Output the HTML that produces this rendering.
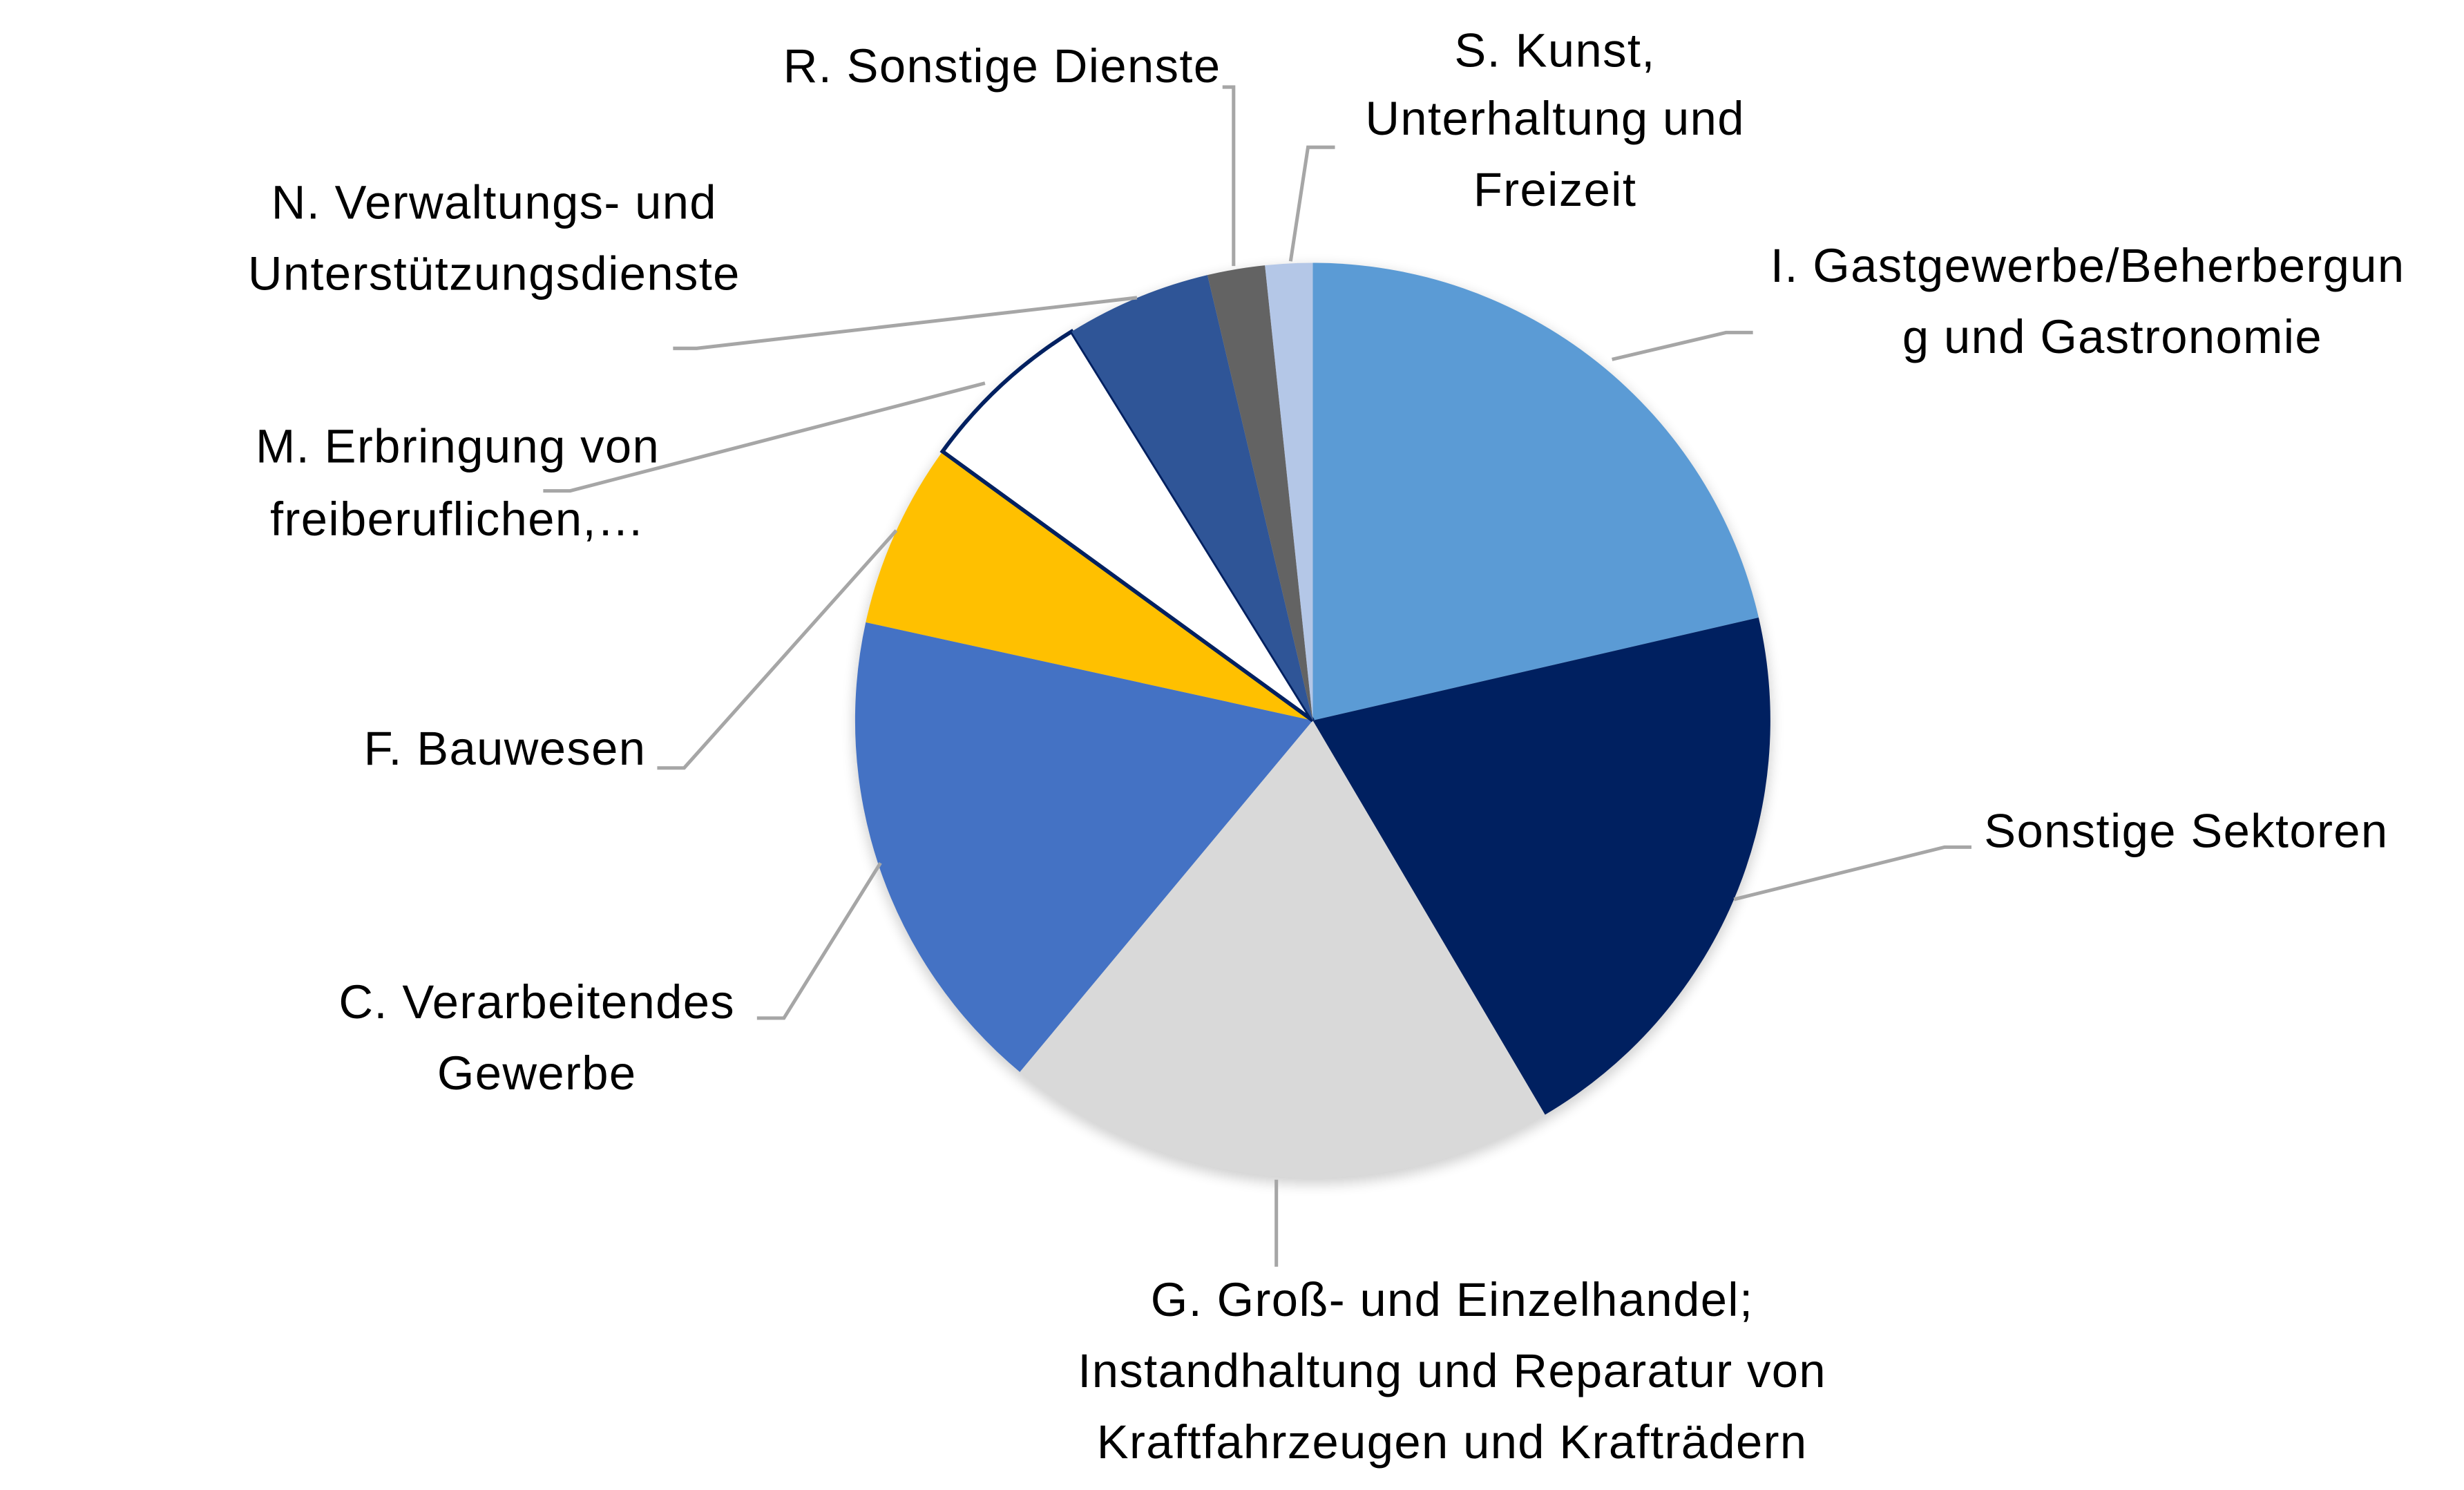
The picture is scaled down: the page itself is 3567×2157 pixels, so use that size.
<!DOCTYPE html>
<html><head><style>html,body{margin:0;padding:0;background:#fff}svg{display:block}</style></head>
<body>
<svg width="3567" height="2157" viewBox="0 0 1556 941" xmlns="http://www.w3.org/2000/svg" font-family="'Liberation Sans', sans-serif" font-size="30" letter-spacing="0.6" fill="#000">
<defs><filter id="sh" x="-20%" y="-20%" width="140%" height="140%"><feGaussianBlur stdDeviation="4"/></filter></defs>
<circle cx="829" cy="458" r="290" fill="#000" opacity="0.18" filter="url(#sh)"/>
<g>
<path d="M829,455 L829,166 A289,289 0 0 1 1110.6,390 Z" fill="#5B9BD5"/>
<path d="M829,455 L1110.6,390 A289,289 0 0 1 975.7,704 Z" fill="#002060"/>
<path d="M829,455 L975.7,704 A289,289 0 0 1 644,677 Z" fill="#D9D9D9"/>
<path d="M829,455 L644,677 A289,289 0 0 1 546.7,393 Z" fill="#4472C4"/>
<path d="M829,455 L546.7,393 A289,289 0 0 1 595.2,285.1 Z" fill="#FFC000"/>
<path d="M829,455 L595.2,285.1 A289,289 0 0 1 676.7,209.4 Z" fill="#FFFFFF" stroke="#002060" stroke-width="2.5" stroke-linejoin="miter"/>
<path d="M829,455 L676.7,209.4 A289,289 0 0 1 762.5,173.7 Z" fill="#2F5597"/>
<path d="M829,455 L762.5,173.7 A289,289 0 0 1 798.8,167.6 Z" fill="#636363"/>
<path d="M829,455 L798.8,167.6 A289,289 0 0 1 829,166 Z" fill="#B4C7E7"/>
</g>
<g stroke="#A6A6A6" stroke-width="2.2" fill="none">
<polyline points="1018,227 1090,210 1107,210"/>
<polyline points="1095,568 1228,535 1245,535"/>
<polyline points="806,745 806,800"/>
<polyline points="556,545 495,643 478,643"/>
<polyline points="566,335 432,485 415,485"/>
<polyline points="622,242 360,310 343,310"/>
<polyline points="718,188 440,220 425,220"/>
<polyline points="779,168 779,55 772,55"/>
<polyline points="815,165 826,93 843,93"/>
</g>
<g>
<text x="771" y="52" text-anchor="end">R. Sonstige Dienste</text>
<text x="982" y="42" text-anchor="middle">S. Kunst,</text>
<text x="982" y="85" text-anchor="middle">Unterhaltung und</text>
<text x="982" y="130" text-anchor="middle">Freizeit</text>
<text x="1118" y="178">I. Gastgewerbe/Beherbergun</text>
<text x="1334" y="223" text-anchor="middle">g und Gastronomie</text>
<text x="312" y="138" text-anchor="middle">N. Verwaltungs- und</text>
<text x="312" y="183" text-anchor="middle">Unterstützungsdienste</text>
<text x="289" y="292" text-anchor="middle">M. Erbringung von</text>
<text x="289" y="338" text-anchor="middle">freiberuflichen,…</text>
<text x="408" y="483" text-anchor="end">F. Bauwesen</text>
<text x="1253" y="535">Sonstige Sektoren</text>
<text x="339" y="643" text-anchor="middle">C. Verarbeitendes</text>
<text x="339" y="688" text-anchor="middle">Gewerbe</text>
<text x="917" y="831" text-anchor="middle">G. Groß- und Einzelhandel;</text>
<text x="917" y="876" text-anchor="middle">Instandhaltung und Reparatur von</text>
<text x="917" y="921" text-anchor="middle">Kraftfahrzeugen und Krafträdern</text>
</g>
</svg>
</body></html>
